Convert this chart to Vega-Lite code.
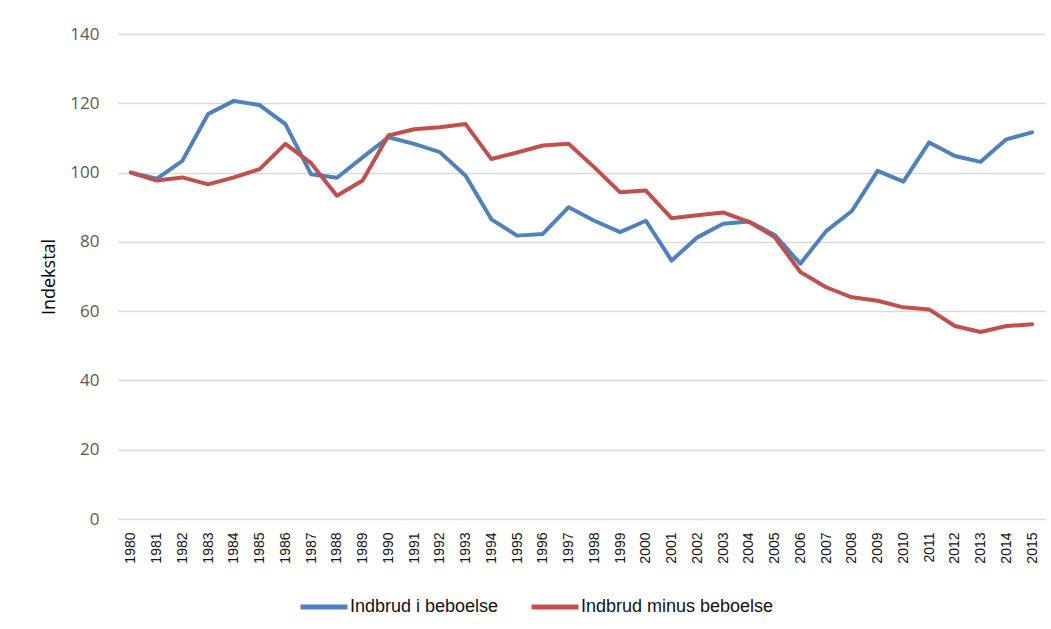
{
  "$schema": "https://vega.github.io/schema/vega-lite/v6.json",
  "autosize": {"type": "none"},
  "width": 927,
  "height": 485,
  "padding": {"left": 118, "top": 34, "right": 6, "bottom": 110},
  "background": "white",
  "config": {"view": {"stroke": null}},
  "data": {
    "values": [
      {"year": "1980", "series": "Indbrud i beboelse", "value": 100},
      {"year": "1981", "series": "Indbrud i beboelse", "value": 98.2},
      {"year": "1982", "series": "Indbrud i beboelse", "value": 103.4},
      {"year": "1983", "series": "Indbrud i beboelse", "value": 116.9},
      {"year": "1984", "series": "Indbrud i beboelse", "value": 120.7},
      {"year": "1985", "series": "Indbrud i beboelse", "value": 119.5},
      {"year": "1986", "series": "Indbrud i beboelse", "value": 114.0},
      {"year": "1987", "series": "Indbrud i beboelse", "value": 99.5},
      {"year": "1988", "series": "Indbrud i beboelse", "value": 98.5},
      {"year": "1989", "series": "Indbrud i beboelse", "value": 104.4},
      {"year": "1990", "series": "Indbrud i beboelse", "value": 110.2},
      {"year": "1991", "series": "Indbrud i beboelse", "value": 108.3},
      {"year": "1992", "series": "Indbrud i beboelse", "value": 105.9},
      {"year": "1993", "series": "Indbrud i beboelse", "value": 99.1},
      {"year": "1994", "series": "Indbrud i beboelse", "value": 86.5},
      {"year": "1995", "series": "Indbrud i beboelse", "value": 81.8},
      {"year": "1996", "series": "Indbrud i beboelse", "value": 82.3},
      {"year": "1997", "series": "Indbrud i beboelse", "value": 90.0},
      {"year": "1998", "series": "Indbrud i beboelse", "value": 86.1},
      {"year": "1999", "series": "Indbrud i beboelse", "value": 82.8},
      {"year": "2000", "series": "Indbrud i beboelse", "value": 86.1},
      {"year": "2001", "series": "Indbrud i beboelse", "value": 74.6},
      {"year": "2002", "series": "Indbrud i beboelse", "value": 81.3},
      {"year": "2003", "series": "Indbrud i beboelse", "value": 85.2},
      {"year": "2004", "series": "Indbrud i beboelse", "value": 85.9},
      {"year": "2005", "series": "Indbrud i beboelse", "value": 82.0},
      {"year": "2006", "series": "Indbrud i beboelse", "value": 73.7},
      {"year": "2007", "series": "Indbrud i beboelse", "value": 83.1},
      {"year": "2008", "series": "Indbrud i beboelse", "value": 88.9},
      {"year": "2009", "series": "Indbrud i beboelse", "value": 100.5},
      {"year": "2010", "series": "Indbrud i beboelse", "value": 97.4},
      {"year": "2011", "series": "Indbrud i beboelse", "value": 108.7},
      {"year": "2012", "series": "Indbrud i beboelse", "value": 104.8},
      {"year": "2013", "series": "Indbrud i beboelse", "value": 103.1},
      {"year": "2014", "series": "Indbrud i beboelse", "value": 109.6},
      {"year": "2015", "series": "Indbrud i beboelse", "value": 111.6},
      {"year": "1980", "series": "Indbrud minus beboelse", "value": 100},
      {"year": "1981", "series": "Indbrud minus beboelse", "value": 97.7},
      {"year": "1982", "series": "Indbrud minus beboelse", "value": 98.6},
      {"year": "1983", "series": "Indbrud minus beboelse", "value": 96.6},
      {"year": "1984", "series": "Indbrud minus beboelse", "value": 98.6},
      {"year": "1985", "series": "Indbrud minus beboelse", "value": 101.0},
      {"year": "1986", "series": "Indbrud minus beboelse", "value": 108.3},
      {"year": "1987", "series": "Indbrud minus beboelse", "value": 102.7},
      {"year": "1988", "series": "Indbrud minus beboelse", "value": 93.3},
      {"year": "1989", "series": "Indbrud minus beboelse", "value": 97.7},
      {"year": "1990", "series": "Indbrud minus beboelse", "value": 110.7},
      {"year": "1991", "series": "Indbrud minus beboelse", "value": 112.5},
      {"year": "1992", "series": "Indbrud minus beboelse", "value": 113.1},
      {"year": "1993", "series": "Indbrud minus beboelse", "value": 114.0},
      {"year": "1994", "series": "Indbrud minus beboelse", "value": 103.9},
      {"year": "1995", "series": "Indbrud minus beboelse", "value": 105.8},
      {"year": "1996", "series": "Indbrud minus beboelse", "value": 107.8},
      {"year": "1997", "series": "Indbrud minus beboelse", "value": 108.3},
      {"year": "1998", "series": "Indbrud minus beboelse", "value": 101.5},
      {"year": "1999", "series": "Indbrud minus beboelse", "value": 94.3},
      {"year": "2000", "series": "Indbrud minus beboelse", "value": 94.8},
      {"year": "2001", "series": "Indbrud minus beboelse", "value": 86.8},
      {"year": "2002", "series": "Indbrud minus beboelse", "value": 87.7},
      {"year": "2003", "series": "Indbrud minus beboelse", "value": 88.5},
      {"year": "2004", "series": "Indbrud minus beboelse", "value": 85.8},
      {"year": "2005", "series": "Indbrud minus beboelse", "value": 81.4},
      {"year": "2006", "series": "Indbrud minus beboelse", "value": 71.3},
      {"year": "2007", "series": "Indbrud minus beboelse", "value": 66.9},
      {"year": "2008", "series": "Indbrud minus beboelse", "value": 64.0},
      {"year": "2009", "series": "Indbrud minus beboelse", "value": 63.0},
      {"year": "2010", "series": "Indbrud minus beboelse", "value": 61.1},
      {"year": "2011", "series": "Indbrud minus beboelse", "value": 60.5},
      {"year": "2012", "series": "Indbrud minus beboelse", "value": 55.7},
      {"year": "2013", "series": "Indbrud minus beboelse", "value": 54.0},
      {"year": "2014", "series": "Indbrud minus beboelse", "value": 55.7},
      {"year": "2015", "series": "Indbrud minus beboelse", "value": 56.2}
    ]
  },
  "mark": {"type": "line", "strokeWidth": 4, "strokeCap": "round", "strokeJoin": "round"},
  "encoding": {
    "x": {
      "field": "year",
      "type": "ordinal",
      "scale": {"type": "point", "padding": 0.5},
      "axis": {
        "title": null,
        "labelAngle": -90,
        "labelFont": "Liberation Sans",
        "labelFontSize": 14,
        "labelColor": "#111111",
        "labelPadding": 13,
        "ticks": false,
        "domain": false,
        "grid": false
      }
    },
    "y": {
      "field": "value",
      "type": "quantitative",
      "scale": {"domain": [0, 140], "nice": false},
      "axis": {
        "title": "Indekstal",
        "titleFont": "Open Sans",
        "titleFontSize": 18,
        "titleFontWeight": "normal",
        "titleColor": "#000000",
        "titlePadding": 11,
        "values": [0, 20, 40, 60, 80, 100, 120, 140],
        "labelFont": "Open Sans",
        "labelFontSize": 17,
        "labelColor": "#595959",
        "labelPadding": 19,
        "ticks": false,
        "domain": false,
        "grid": true,
        "gridColor": "#D9D9D9",
        "gridWidth": 1.5
      }
    },
    "color": {
      "field": "series",
      "type": "nominal",
      "scale": {
        "domain": ["Indbrud i beboelse", "Indbrud minus beboelse"],
        "range": ["#4F81BD", "#C0504D"]
      },
      "legend": {
        "title": null,
        "orient": "none",
        "direction": "horizontal",
        "legendX": 180,
        "legendY": 547,
        "symbolType": "stroke",
        "symbolSize": 2209,
        "symbolStrokeWidth": 5,
        "labelFont": "Liberation Sans",
        "labelFontSize": 18,
        "labelColor": "#111111",
        "labelOffset": 0,
        "labelLimit": 400,
        "columnPadding": 22
      }
    }
  }
}
